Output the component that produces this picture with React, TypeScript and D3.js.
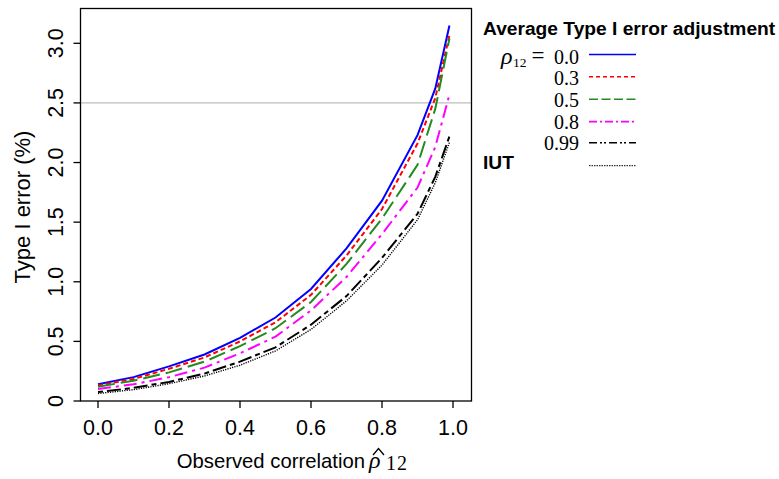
import React from 'react';
import * as d3 from 'd3';

// observed correlation grid
const rhoHat = [0, 0.1, 0.2, 0.3, 0.4, 0.5, 0.6, 0.7, 0.8, 0.9, 0.95, 0.99];

// type I error (%)
const err00 = [0.14, 0.2, 0.29, 0.39, 0.53, 0.7, 0.94, 1.28, 1.68, 2.23, 2.62, 3.15];
const err03 = [0.13, 0.185, 0.27, 0.365, 0.5, 0.66, 0.89, 1.22, 1.61, 2.16, 2.54, 3.07];
const err05 = [0.12, 0.17, 0.24, 0.33, 0.46, 0.61, 0.83, 1.15, 1.53, 1.98, 2.45, 3.04];
const err08 = [0.1, 0.14, 0.2, 0.28, 0.4, 0.54, 0.76, 1.04, 1.4, 1.79, 2.13, 2.57];
const err099 = [0.075, 0.11, 0.16, 0.23, 0.33, 0.45, 0.64, 0.88, 1.2, 1.57, 1.88, 2.22];
const errIUT = [0.063, 0.095, 0.145, 0.21, 0.3, 0.42, 0.6, 0.84, 1.14, 1.52, 1.83, 2.17];

const xTicks = [0, 0.2, 0.4, 0.6, 0.8, 1.0];
const yTicks = [0, 0.5, 1.0, 1.5, 2.0, 2.5, 3.0];
const yTickLabels = ['0', '0.5', '1.0', '1.5', '2.0', '2.5', '3.0'];
const legendRho = ['0.0', '0.3', '0.5', '0.8', '0.99'];

const series = [
  { name: '0.0', values: err00, color: '#0000ff', dash: null, legendDash: null, width: 2 },
  { name: '0.3', values: err03, color: '#ff0000', dash: '5,3', legendDash: '4,3', width: 2 },
  { name: '0.5', values: err05, color: '#228b22', dash: '17,6', legendDash: '9,3.5', width: 2 },
  { name: '0.8', values: err08, color: '#ff00ff', dash: '13,5,3,5', legendDash: '8,3,2,3', width: 2 },
  { name: '0.99', values: err099, color: '#000000', dash: '5,4,14,4', legendDash: '8,3,2,2,2,3', width: 2 },
  { name: 'IUT', values: errIUT, color: '#000000', dash: '1.2,1.2', legendDash: '1.5,1', width: 1.4 },
];

const W = 779;
const H = 479;
const frame = { left: 80.5, right: 471.5, top: 8.5, bottom: 401 };

export default function App() {
  const x = d3.scaleLinear().domain([0, 1]).range([98, 453]);
  const y = d3.scaleLinear().domain([0, 3]).range([401, 43.3]);

  const line = d3
    .line<number>()
    .x((_, i) => x(rhoHat[i]))
    .y((d) => y(d));

  const sans = 'Liberation Sans, Arial, sans-serif';
  const serif = 'Liberation Serif, Times New Roman, serif';

  const legendBase = [63.5, 85.2, 106.9, 128.6, 150.2];
  const legendLineY = [54.5, 76.7, 99.2, 121.6, 142.8, 165.7];

  return (
    <svg
      width={W}
      height={H}
      style={{ position: 'absolute', left: 0, top: 0, background: '#fff' }}
    >
      <rect width={W} height={H} fill="#fff" />

      {/* reference line at 2.5% */}
      <line x1={frame.left} x2={frame.right} y1={y(2.5)} y2={y(2.5)} stroke="#bebebe" strokeWidth={1.3} />

      {/* curves */}
      <g fill="none">
        {series.map((s) => (
          <path
            key={s.name}
            d={line(s.values) || ''}
            stroke={s.color}
            strokeWidth={s.width}
            strokeDasharray={s.dash || undefined}
          />
        ))}
      </g>

      {/* frame */}
      <rect
        x={frame.left}
        y={frame.top}
        width={frame.right - frame.left}
        height={frame.bottom - frame.top}
        fill="none"
        stroke="#000"
        strokeWidth={1.3}
      />

      {/* x axis */}
      <g fontFamily={sans} fontSize={21.5} textAnchor="middle" fill="#000">
        {xTicks.map((t) => (
          <g key={t}>
            <line x1={x(t)} x2={x(t)} y1={frame.bottom} y2={frame.bottom + 7} stroke="#000" strokeWidth={1.3} />
            <text x={x(t)} y={435}>{d3.format('.1f')(t)}</text>
          </g>
        ))}
      </g>

      {/* y axis */}
      <g fontFamily={sans} fontSize={21.5} textAnchor="middle" fill="#000">
        {yTicks.map((t, i) => (
          <g key={t}>
            <line x1={frame.left - 7} x2={frame.left} y1={y(t)} y2={y(t)} stroke="#000" strokeWidth={1.3} />
            <text transform={`translate(63,${y(t)}) rotate(-90)`}>{yTickLabels[i]}</text>
          </g>
        ))}
      </g>

      {/* axis titles */}
      <text
        transform="translate(30,207) rotate(-90)"
        textAnchor="middle"
        fontFamily={sans}
        fontSize={22}
      >
        Type I error (%)
      </text>
      <text x={176.7} y={467.5} fontFamily={sans} fontSize={20.3}>
        Observed correlation
      </text>
      <text x={369} y={467.5} fontFamily={serif} fontStyle="italic" fontSize={24}>
        {'\u03c1'}
      </text>
      <path d="M373,455 L378.5,448.5 L384,455" fill="none" stroke="#000" strokeWidth={1.3} />
      <text x={386} y={470} fontFamily={serif} fontSize={20} letterSpacing={1}>
        12
      </text>

      {/* legend */}
      <text x={483} y={35} fontFamily={sans} fontWeight="bold" fontSize={19.2}>
        Average Type I error adjustment
      </text>
      <text x={501} y={legendBase[0]} fontFamily={serif} fontStyle="italic" fontSize={24}>
        {'\u03c1'}
      </text>
      <text x={513} y={legendBase[0] + 3} fontFamily={serif} fontSize={13.5}>
        12
      </text>
      <text x={538} y={legendBase[0] - 0.5} fontFamily={serif} fontSize={23} textAnchor="middle">
        =
      </text>
      {legendRho.map((r, i) => (
        <text key={r} x={579} y={legendBase[i]} fontFamily={serif} fontSize={20} textAnchor="end">
          {r}
        </text>
      ))}
      <text x={483} y={168.5} fontFamily={sans} fontWeight="bold" fontSize={19.2}>
        IUT
      </text>
      {series.map((s, i) => (
        <line
          key={s.name}
          x1={589}
          x2={636}
          y1={legendLineY[i]}
          y2={legendLineY[i]}
          stroke={s.color}
          strokeWidth={s.name === 'IUT' ? 1 : 1.6}
          strokeDasharray={s.legendDash || undefined}
        />
      ))}
    </svg>
  );
}
